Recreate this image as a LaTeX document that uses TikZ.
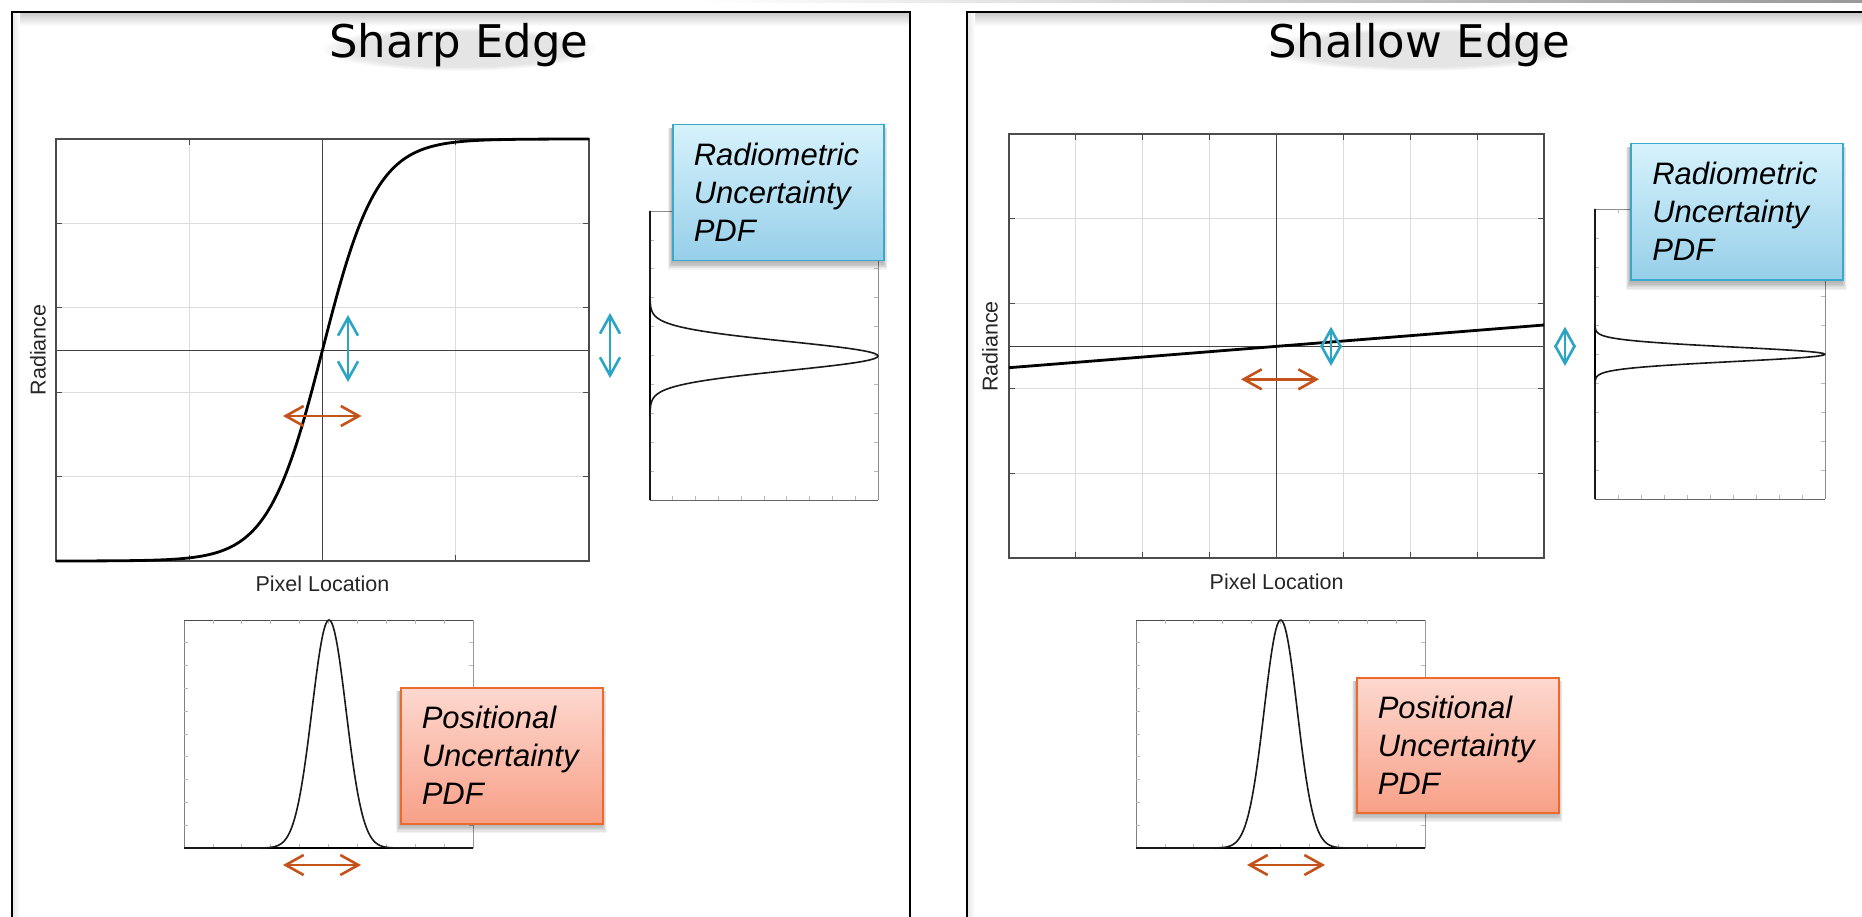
\documentclass[tikz,border=0pt]{standalone}
\usepackage{fontspec}
\setmainfont{Liberation Sans}
\newfontfamily\titlefont{DejaVu Sans}
\usetikzlibrary{arrows.meta,fadings}

\definecolor{cyanarrow}{HTML}{2CA4C6}
\definecolor{orangearrow}{HTML}{C4521B}
\definecolor{blueTop}{HTML}{D6F2FC}
\definecolor{blueBot}{HTML}{96CFE9}
\definecolor{blueEdge}{HTML}{39A8CA}
\definecolor{pinkTop}{HTML}{FDD8CF}
\definecolor{pinkBot}{HTML}{F8A087}
\definecolor{pinkEdge}{HTML}{EC6A2C}
\definecolor{gridgray}{HTML}{DCDCDC}

\tikzset{
  x=1pt, y=-1pt,
  panel/.style={draw=black, line width=2.2pt},
  axisbox/.style={draw=black!70, line width=1.1pt},
  gridline/.style={draw=gridgray, line width=0.9pt},
  meanline/.style={draw=black!75, line width=1pt},
  tickmark/.style={draw=black!70, line width=0.9pt},
  faintick/.style={draw=black!28, line width=0.7pt},
  edgecurve/.style={draw=black, line width=2.8pt, line join=round},
  pdfcurve/.style={draw=black!90, line width=1.6pt, line join=round},
  uarrow/.style={line width=2.6pt,
    {Straight Barb[length=18pt,width=20pt]}-{Straight Barb[length=18pt,width=20pt]}},
  radarrow/.style={uarrow, draw=cyanarrow},
  posarrow/.style={uarrow, draw=orangearrow},
  labelbox/.style={minimum height=136pt, inner xsep=21pt, inner ysep=0pt,
    align=left, font=\fontsize{31}{38}\selectfont\itshape, line width=1.5pt,
    anchor=north west},
  radbox/.style={labelbox, text width=169pt, draw=blueEdge, top color=blueTop, bottom color=blueBot},
  posbox/.style={labelbox, text width=160pt, draw=pinkEdge, top color=pinkTop, bottom color=pinkBot},
  axislabel/.style={font=\fontsize{21.5}{24}\selectfont, text=black!85},
  titletext/.style={font=\titlefont\fontsize{45}{50}\selectfont, anchor=base},
}

% soft drop shadow under a label box: x y w h
\newcommand\softshadow[4]{%
  \foreach \s in {1,...,6}{%
    \fill[black, opacity=0.05] ({#1-0.7*\s},{#2+4}) rectangle ({#1+#3+0.7*\s},{#2+#4+2+1.3*\s});
  }}

% title with a faint haze underneath: x, name, half width, text
\newcommand\paneltitle[4]{%
  \fill[black, opacity=0.10, path fading=circle with fuzzy edge 20 percent]
    (#1,49) ellipse ({#3} and 22);
  \node[titletext] (#2) at (#1,58) {#4};}

% faint ticks around a small PDF plot: x0 y0 x1 y1
\newcommand\pdfticks[4]{%
  \foreach \k in {1,...,9}{%
    \draw[faintick] ({#1+(#3-#1)*\k/10},#2) -- ++(0,4);
    \draw[faintick] ({#1+(#3-#1)*\k/10},#4) -- ++(0,-4);
    \draw[faintick] (#1,{#2+(#4-#2)*\k/10}) -- ++(4,0);
    \draw[faintick] (#3,{#2+(#4-#2)*\k/10}) -- ++(-4,0);
  }}

\begin{document}
\begin{tikzpicture}
\useasboundingbox (0,0) rectangle (1862,917);
\clip (0,0) rectangle (1862,917);
\fill[white] (0,0) rectangle (1862,917);

% thin grey rule along the top edge
\shade[left color=white, right color=black!40] (700,0) rectangle (1862,3);

% the two panels with a soft inner shade
\foreach \px/\qx in {12/910, 967/1890}{
  \shade[top color=black!22, bottom color=white] (\px,12) rectangle (\qx,26);
  \shade[left color=black!10, right color=white] (\px,12) rectangle (\px+8,917);
}
\draw[panel] (12,12) rectangle (910,940);
\draw[panel] (967,12) rectangle (1890,940);

\paneltitle{459}{titleL}{138}{Sharp Edge}
\paneltitle{1419}{titleR}{158}{Shallow Edge}

%% ---------------- Sharp edge ----------------
% grid
\foreach \k in {1,3} \draw[gridline] ({56+133.25*\k},139) -- ({56+133.25*\k},561);
\foreach \k in {1,...,4} \draw[gridline] (56,{139+84.4*\k}) -- (589,{139+84.4*\k});
\draw[meanline] (322.5,139) -- (322.5,561);
\draw[meanline] (56,350) -- (589,350);
\foreach \k in {1,...,4}{
  \draw[tickmark] (56,{139+84.4*\k}) -- ++(6,0);
  \draw[tickmark] (589,{139+84.4*\k}) -- ++(-6,0);
}
\foreach \k in {1,...,3}{
  \draw[tickmark] ({56+133.25*\k},139) -- ++(0,6);
  \draw[tickmark] ({56+133.25*\k},561) -- ++(0,-6);
}
\draw[axisbox] (56,139) rectangle (589,561);
\draw[edgecurve] plot[domain=56:589, samples=220, variable=\t]
  ({\t},{350-211*tanh(2.45*(\t-322.5)/133.25)});
\node[axislabel, rotate=90] (radL) at (38,350) {Radiance};
\node[axislabel] (pixL) at (322.5,584) {Pixel Location};

% radiometric PDF (rotated)
\draw[black!45, line width=0.9pt] (650,211) -- (878,211) -- (878,500);
\draw[black!60, line width=1pt] (650,500) -- (878,500);
\pdfticks{650}{211}{878}{500}
\draw[black, line width=1.6pt] (650,211) -- (650,500);
\draw[pdfcurve] plot[domain=211:500, samples=220, variable=\t]
  ({650+228*exp(-0.5*((\t-356)/14.5)*((\t-356)/14.5))},{\t});

% positional PDF
\draw[black!50, line width=0.9pt] (184,848) -- (184,620);
\draw[black!40, line width=0.9pt] (473,620) -- (473,848);
\draw[black!70, line width=1pt] (184,620) -- (473,620);
\pdfticks{184}{620}{473}{848}
\draw[black, line width=1.6pt] (184,848) -- (473,848);
\draw[pdfcurve] plot[domain=184:473, samples=220, variable=\t]
  ({\t},{848-228*exp(-0.5*((\t-329)/17)*((\t-329)/17))});

% uncertainty arrows
\coordinate (aL1) at (348,315);   \coordinate (aL2) at (348,382);
\coordinate (bL1) at (610,313);   \coordinate (bL2) at (610,378);
\coordinate (cL1) at (283,416);   \coordinate (cL2) at (361.5,416);
\coordinate (dL1) at (283,865);   \coordinate (dL2) at (361,865);
\draw[radarrow] (aL1) -- (aL2);
\draw[radarrow] (bL1) -- (bL2);
\draw[posarrow] (cL1) -- (cL2);
\draw[posarrow] (dL1) -- (dL2);

% label boxes
\softshadow{672}{124}{211}{136}
\node[radbox, minimum width=211pt] (radboxL) at (672,124) {Radiometric\\Uncertainty\\PDF};
\softshadow{400}{687}{202}{136}
\node[posbox, minimum width=202pt] (posboxL) at (400,687) {Positional\\Uncertainty\\PDF};

%% ---------------- Shallow edge ----------------
\foreach \k in {1,2,3,5,6,7} \draw[gridline] ({1009+66.9*\k},134) -- ({1009+66.9*\k},558);
\foreach \k in {1,...,4} \draw[gridline] (1009,{134+84.8*\k}) -- (1544,{134+84.8*\k});
\draw[meanline] (1276.6,134) -- (1276.6,558);
\draw[meanline] (1009,346.5) -- (1544,346.5);
\foreach \k in {1,...,4}{
  \draw[tickmark] (1009,{134+84.8*\k}) -- ++(6,0);
  \draw[tickmark] (1544,{134+84.8*\k}) -- ++(-6,0);
}
\foreach \k in {1,...,7}{
  \draw[tickmark] ({1009+66.9*\k},134) -- ++(0,6);
  \draw[tickmark] ({1009+66.9*\k},558) -- ++(0,-6);
}
\draw[axisbox] (1009,134) rectangle (1544,558);
\draw[edgecurve] (1009,367.7) -- (1544,325);
\node[axislabel, rotate=90] (radR) at (990,346.5) {Radiance};
\node[axislabel] (pixR) at (1276.6,582) {Pixel Location};

% radiometric PDF (rotated)
\draw[black!45, line width=0.9pt] (1595,209) -- (1825,209) -- (1825,499);
\draw[black!60, line width=1pt] (1595,499) -- (1825,499);
\pdfticks{1595}{209}{1825}{499}
\draw[black, line width=1.6pt] (1595,209) -- (1595,499);
\draw[pdfcurve] plot[domain=209:499, samples=300, variable=\t]
  ({1595+230*exp(-0.5*((\t-354.3)/7.2)*((\t-354.3)/7.2))},{\t});

% positional PDF
\draw[black!50, line width=0.9pt] (1136,848) -- (1136,620);
\draw[black!40, line width=0.9pt] (1425,620) -- (1425,848);
\draw[black!70, line width=1pt] (1136,620) -- (1425,620);
\pdfticks{1136}{620}{1425}{848}
\draw[black, line width=1.6pt] (1136,848) -- (1425,848);
\draw[pdfcurve] plot[domain=1136:1425, samples=220, variable=\t]
  ({\t},{848-228*exp(-0.5*((\t-1280.7)/16.5)*((\t-1280.7)/16.5))});

% uncertainty arrows
\coordinate (aR1) at (1331,326.7);  \coordinate (aR2) at (1331,366);
\coordinate (bR1) at (1565,326.7);  \coordinate (bR2) at (1565,366);
\coordinate (cR1) at (1241,379.3);  \coordinate (cR2) at (1319,379.3);
\coordinate (dR1) at (1247,865);    \coordinate (dR2) at (1325,865);
\draw[radarrow] (aR1) -- (aR2);
\draw[radarrow] (bR1) -- (bR2);
\draw[posarrow] (cR1) -- (cR2);
\draw[posarrow] (dR1) -- (dR2);

% label boxes
\softshadow{1630}{143}{212}{137}
\node[radbox, minimum width=212pt] (radboxR) at (1630,143) {Radiometric\\Uncertainty\\PDF};
\softshadow{1356}{677}{202}{135}
\node[posbox, minimum width=202pt, minimum height=135pt] (posboxR) at (1356,677) {Positional\\Uncertainty\\PDF};
\end{tikzpicture}
\end{document}
